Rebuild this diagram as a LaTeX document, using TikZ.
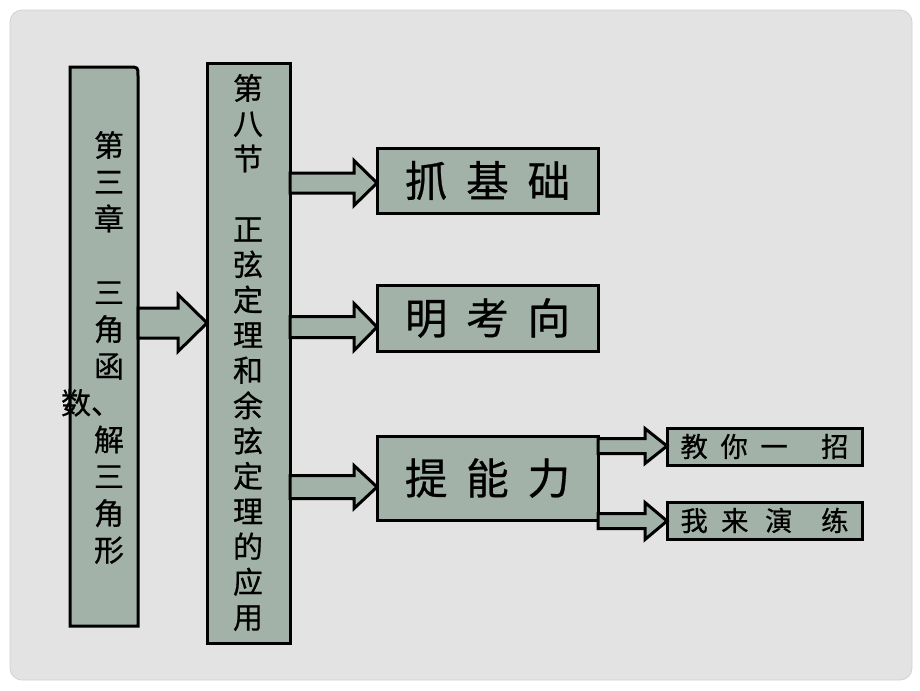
\documentclass[tikz,border=0pt]{standalone}
\usepackage{fontspec}
\newfontfamily\cjk[FakeBold=0.6]{Noto Sans CJK SC}
\usetikzlibrary{calc}
\definecolor{boxfill}{HTML}{A2B2A8}
\definecolor{bggray}{HTML}{E3E3E3}
\def\px{*0.75pt}
\newcommand\blkarr[5]{%
  \coordinate (S) at (#1);
  \coordinate (T) at (#2);
  \draw[arr] ($(S)+(0,-#4)$) -- ($(T)+(-#3,-#4)$) -- ($(T)+(-#3,-#5)$) -- (T)
    -- ($(T)+(-#3,#5)$) -- ($(T)+(-#3,#4)$) -- ($(S)+(0,#4)$) -- cycle;}
\begin{document}
\begin{tikzpicture}[x=0.75pt,y=-0.75pt,
  box/.style={draw=black,fill=boxfill,line width=2.25pt,rectangle,outer sep=0pt,inner sep=0pt},
  boxline/.style={draw=black,fill=boxfill,line width=2.25pt},
  arr/.style={draw=black,fill=boxfill,line width=2.25pt,line join=miter},
  vtext/.style={font=\cjk\fontsize{22.5}{27.6}\selectfont,align=center,inner sep=0pt},
  vtextb/.style={font=\cjk\fontsize{22.5}{26.45}\selectfont,align=center,inner sep=0pt},
  bigtxt/.style={font=\cjk\fontsize{32}{38}\selectfont},
  smalltxt/.style={font=\cjk\fontsize{20.5}{24}\selectfont}]
\path[use as bounding box] (0,0) rectangle (920,690);
\fill[white] (0,0) rectangle (920,690);
\filldraw[fill=bggray,draw=black!18,line width=0.6pt,rounded corners=9pt] (10,10) rectangle (912,680);

% chapter box (top-right corner rounded)
\node[minimum width={68\px},minimum height={559\px},outer sep=0pt,inner sep=0pt] (ch) at (104,346.5) {};
\draw[boxline] (ch.south west) -- (ch.north west) -- ($(ch.north east)+(-9,0)$)
  .. controls (ch.north east) .. ($(ch.north east)+(0,9)$) -- (ch.south east) -- cycle;
\node[vtext] (cht) at (109,347.5) {第\\三\\章\\~\\三\\角\\函\\\makebox[1em][l]{\kern-1.1em 数、}\\解\\三\\角\\形};

% section box
\node[box,minimum width={83\px},minimum height={580\px}] (sec) at (248.5,353) {};
\node[vtextb] (sect) at (248,352.5) {第\\八\\节\\~\\正\\弦\\定\\理\\和\\余\\弦\\定\\理\\的\\应\\用};

% right boxes
\node[box,bigtxt,minimum width={221\px},minimum height={65\px}] (zhua) at (487.5,180.5) {抓\hspace{14pt}基\hspace{14pt}础};
\node[box,bigtxt,minimum width={221\px},minimum height={66\px}] (ming) at (487.5,318) {明\hspace{14pt}考\hspace{14pt}向};
\node[box,bigtxt,minimum width={221\px},minimum height={84\px}] (ti) at (487.5,478) {提\hspace{14pt}能\hspace{14pt}力};
\node[box,smalltxt,minimum width={195\px},minimum height={37\px}] (jiao) at (764.5,446.5) {教\hspace{9.5pt}你\hspace{9.5pt}一\hspace{25pt}招};
\node[box,smalltxt,minimum width={195\px},minimum height={37\px}] (wo) at (764.5,520.5) {我\hspace{10pt}来\hspace{12.5pt}演\hspace{21.5pt}练};

% block arrows
\blkarr{ch.east |- 0,323}{sec.west |- 0,323}{29}{15}{28.5}
\blkarr{sec.east |- 0,183}{zhua.west |- 0,183}{23}{10}{22.5}
\blkarr{sec.east |- 0,327}{ming.west |- 0,327}{23}{10.5}{23.5}
\blkarr{sec.east |- 0,487}{ti.west |- 0,487}{23}{11.5}{21.5}
\blkarr{ti.east |- 0,446}{jiao.west |- 0,446}{22}{7.5}{17.5}
\blkarr{ti.east |- 0,521}{wo.west |- 0,521}{22}{7.5}{18.5}
\end{tikzpicture}
\end{document}
